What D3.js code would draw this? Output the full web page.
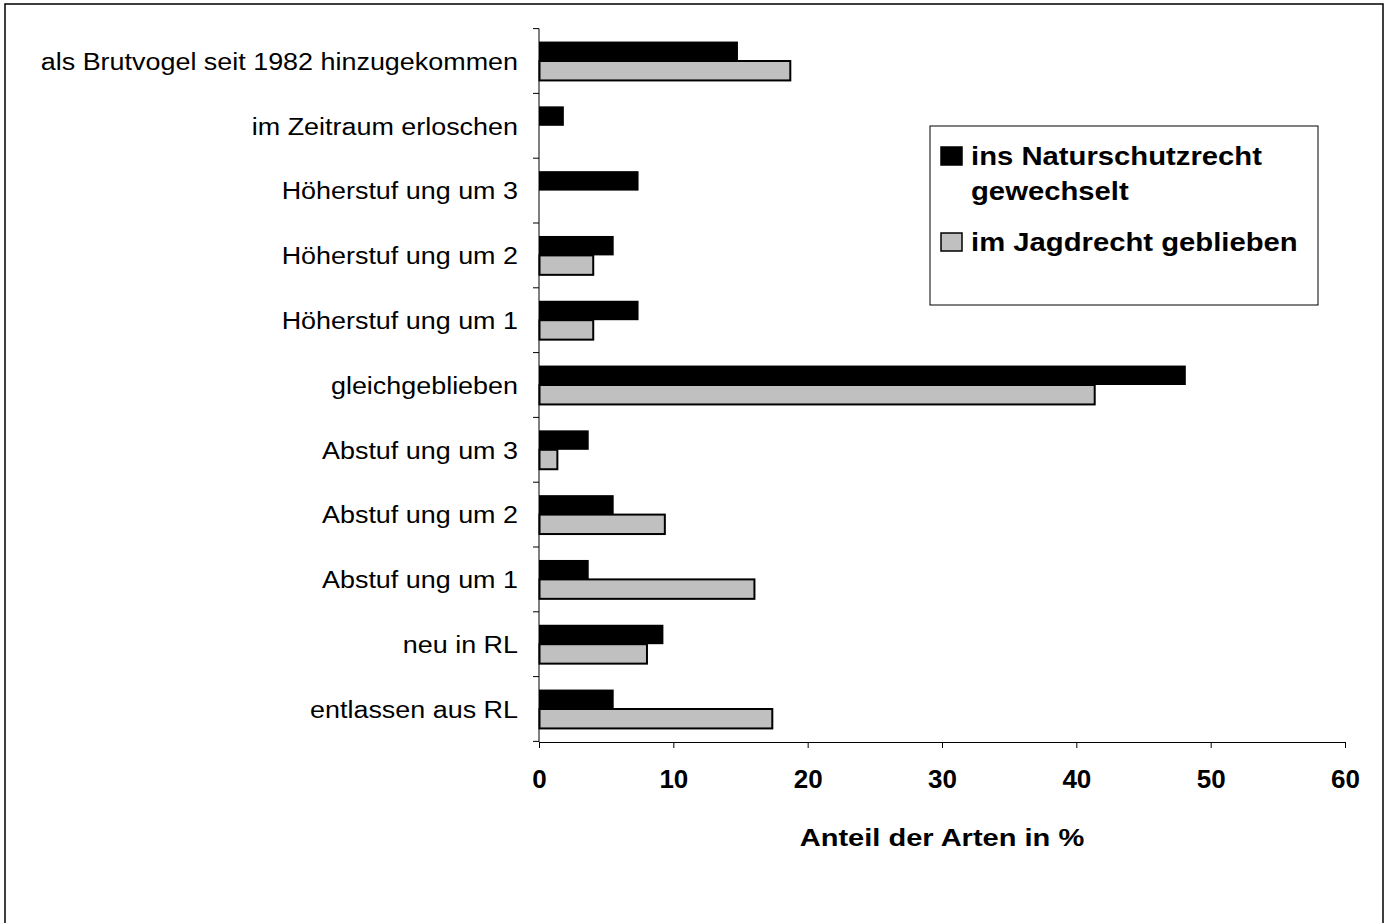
<!DOCTYPE html>
<html><head><meta charset="utf-8">
<script src="https://cdn.jsdelivr.net/npm/d3@7"></script>
<style>html,body{margin:0;padding:0;background:#fff;} svg{display:block;}</style>
</head><body>
<script>
const categories = [
  "als Brutvogel seit 1982 hinzugekommen",
  "im Zeitraum erloschen",
  "Höherstuf ung um 3",
  "Höherstuf ung um 2",
  "Höherstuf ung um 1",
  "gleichgeblieben",
  "Abstuf ung um 3",
  "Abstuf ung um 2",
  "Abstuf ung um 1",
  "neu in RL",
  "entlassen aus RL"
];
const naturschutz = [14.81, 1.85, 7.41, 5.56, 7.41, 48.15, 3.70, 5.56, 3.70, 9.26, 5.56];
const jagdrecht   = [18.67, 0, 0, 4.00, 4.00, 41.33, 1.33, 9.33, 16.00, 8.00, 17.33];
const seriesNames = ["ins Naturschutzrecht|gewechselt", "im Jagdrecht geblieben"];
const xTicks = [0, 10, 20, 30, 40, 50, 60];
const xTitle = "Anteil der Arten in %";

const W = 1388, H = 923;
const svg = d3.select("body").append("svg").attr("width", W).attr("height", H);
const FONT = "'Liberation Sans', Arial, sans-serif";

// outer frame
svg.append("rect").attr("x", 5).attr("y", 4).attr("width", 1378).attr("height", 930)
  .attr("fill", "#fff").attr("stroke", "#000").attr("stroke-width", 1.5);

const x = d3.scaleLinear().domain([0, 60]).range([539, 1345]);
const y = d3.scaleBand().domain(categories).range([28.6, 741.4]).paddingInner(0.4).paddingOuter(0.2);
const sub = d3.scaleBand().domain([0, 1]).range([0, y.bandwidth()]);

function stretch(sel, k) {
  sel.each(function() {
    const w = this.getComputedTextLength();
    d3.select(this).attr("textLength", w * k).attr("lengthAdjust", "spacingAndGlyphs");
  });
}

// bars
const g = svg.append("g");
g.selectAll("rect.b").data(categories).enter().append("rect")
  .attr("x", x(0)).attr("y", d => y(d) + sub(0))
  .attr("width", (d, i) => x(naturschutz[i]) - x(0)).attr("height", sub.bandwidth())
  .attr("fill", "#000");
g.selectAll("rect.g").data(categories.filter((d, i) => jagdrecht[i] > 0)).enter().append("rect")
  .attr("x", x(0) + 0.5).attr("y", d => y(d) + sub(1))
  .attr("width", d => x(jagdrecht[categories.indexOf(d)]) - x(0))
  .attr("height", sub.bandwidth())
  .attr("fill", "#c0c0c0").attr("stroke", "#000").attr("stroke-width", 2);

// y axis line + ticks at band boundaries
svg.append("line").attr("x1", x(0)).attr("x2", x(0)).attr("y1", 28.6).attr("y2", 742)
  .attr("stroke", "#000").attr("stroke-width", 1);
const step = y.step();
const bounds = d3.range(categories.length + 1).map(i => 28.6 + i * step);
svg.selectAll("line.yt").data(bounds).enter().append("line")
  .attr("x1", x(0) - 6).attr("x2", x(0)).attr("y1", d => d).attr("y2", d => d)
  .attr("stroke", "#000").attr("stroke-width", 1);

// category labels
const labels = svg.selectAll("text.cat").data(categories).enter().append("text")
  .attr("y", d => y(d) + y.bandwidth() / 2).attr("dy", "0.38em")
  .attr("font-family", FONT).attr("font-size", 23).attr("fill", "#000")
  .text(d => d);
labels.each(function() {
  const w = this.getComputedTextLength() * 1.17;
  d3.select(this).attr("textLength", w).attr("lengthAdjust", "spacingAndGlyphs").attr("x", 518 - w);
});

// x axis
const xAxis = d3.axisBottom(x).tickValues(xTicks).tickSize(6).tickSizeOuter(0);
const ax = svg.append("g").attr("transform", "translate(0,742)").call(xAxis);
ax.select(".domain").attr("stroke", "#000");
ax.selectAll(".tick line").attr("stroke", "#000");
ax.selectAll(".tick text").attr("font-family", FONT).attr("font-size", 25)
  .attr("font-weight", "bold").attr("fill", "#000").attr("y", 46).attr("dy", 0);
ax.selectAll(".tick text").each(function() {
  const w = this.getComputedTextLength() * 1.04;
  d3.select(this).attr("textLength", w).attr("lengthAdjust", "spacingAndGlyphs");
});

// x title
const xt = svg.append("text").attr("x", (x(0) + x(60)) / 2).attr("y", 846)
  .attr("text-anchor", "middle").attr("font-family", FONT).attr("font-size", 24)
  .attr("font-weight", "bold").attr("fill", "#000").text(xTitle);
stretch(xt, 1.21);

// legend
const lg = svg.append("g");
lg.append("rect").attr("x", 930).attr("y", 126).attr("width", 388).attr("height", 179)
  .attr("fill", "#fff").attr("stroke", "#000").attr("stroke-width", 1);
const legendItems = [
  {fill: "#000", lines: seriesNames[0].split("|"), sy: 147, ty: 165},
  {fill: "#c0c0c0", lines: seriesNames[1].split("|"), sy: 233, ty: 251}
];
legendItems.forEach(it => {
  lg.append("rect").attr("x", 941).attr("y", it.sy).attr("width", 21).attr("height", 18)
    .attr("fill", it.fill).attr("stroke", "#000").attr("stroke-width", 1.5);
  it.lines.forEach((ln, j) => {
    const t = lg.append("text").attr("x", 971).attr("y", it.ty + j * 35)
      .attr("font-family", FONT).attr("font-size", 25).attr("font-weight", "bold")
      .attr("fill", "#000").text(ln);
    stretch(t, 1.17);
  });
});
</script>
</body></html>
